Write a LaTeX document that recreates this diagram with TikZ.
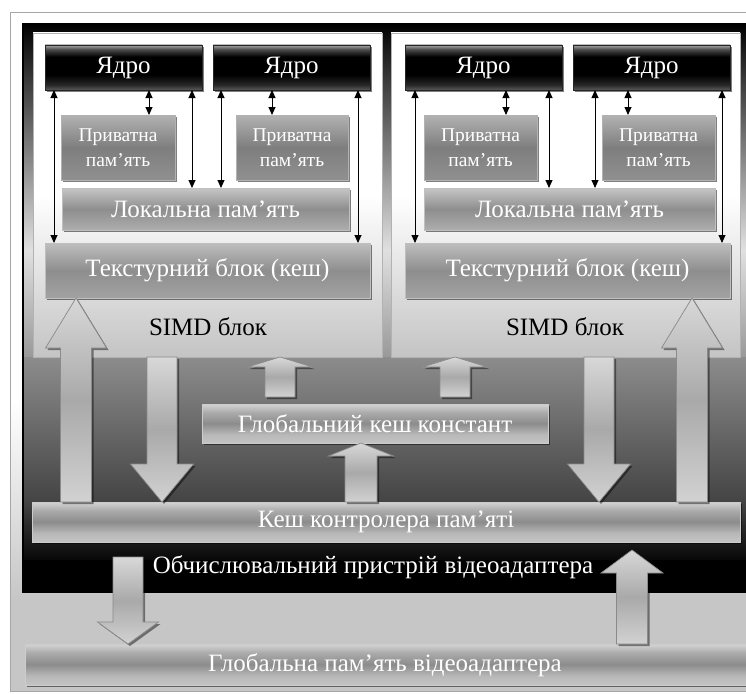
\documentclass[tikz,border=0pt]{standalone}
\usepackage{fontspec}
\setmainfont{Liberation Serif}
\usetikzlibrary{arrows.meta,calc}
\definecolor{outerB}{HTML}{C6C6C6}
\definecolor{coreA}{HTML}{5A5A5A}
\definecolor{coreB}{HTML}{262626}
\definecolor{coreC}{HTML}{4A4A4A}
\definecolor{coreD}{HTML}{A8A8A8}
\definecolor{barA}{HTML}{C4C4C4}
\definecolor{barB}{HTML}{B8B8B8}
\definecolor{barC}{HTML}{8C8C8C}
\definecolor{barD}{HTML}{AAAAAA}
\definecolor{barE}{HTML}{D4D4D4}
\definecolor{privT}{HTML}{B2B2B2}
\definecolor{privM}{HTML}{7E7E7E}
\definecolor{privB}{HTML}{909090}
\definecolor{locT}{HTML}{C6C6C6}
\definecolor{locM}{HTML}{8E8E8E}
\definecolor{locB}{HTML}{ADADAD}
\definecolor{texT}{HTML}{BEBEBE}
\definecolor{texM}{HTML}{8E8E8E}
\definecolor{texB}{HTML}{A2A2A2}
\definecolor{fatT}{HTML}{D8D8D8}
\definecolor{fatM}{HTML}{A9A9A9}
\definecolor{fatB}{HTML}{D2D2D2}
\definecolor{fatD}{HTML}{8A8A8A}
\definecolor{simdB}{HTML}{C4C4C4}
\pgfdeclareverticalshading{coreshade}{100bp}{color(0bp)=(coreA); color(25bp)=(coreA); color(31bp)=(coreB); color(42bp)=(black); color(62bp)=(black); color(70bp)=(coreC); color(75bp)=(coreD); color(100bp)=(coreD)}
\pgfdeclareverticalshading{barshade}{100bp}{color(0bp)=(barA); color(25bp)=(barA); color(36bp)=(barB); color(50bp)=(barC); color(64bp)=(barD); color(75bp)=(barE); color(100bp)=(barE)}
\newcommand\fatarrow[5]{%
  \path[fat] let \p1=#1, \p2=#2, \n1={\y2-sign(\y2-\y1)*(#5)} in
    (\x1-#3pt,\y1) -- (\x1-#3pt,{\n1*1pt}) -- (\x1-#4pt,{\n1*1pt}) -- (\x1,\y2)
    -- (\x1+#4pt,{\n1*1pt}) -- (\x1+#3pt,{\n1*1pt}) -- (\x1+#3pt,\y1) -- cycle;}
\begin{document}
\begin{tikzpicture}[x=1pt,y=-1pt,
  shadowed/.style={preaction={fill=black,opacity=.5,transform canvas={xshift=2pt,yshift=-2pt}}},
  box/.style={anchor=north west,inner sep=0pt,outer sep=0pt,align=center,text=white,
    font=\fontsize{25}{28}\selectfont},
  core/.style={box,shading=coreshade,draw=black!85,line width=.8pt,shadowed},
  priv/.style={box,top color=privT,bottom color=privB,middle color=privM,draw=gray!60,
    line width=.6pt,shadowed,font=\fontsize{19.5}{25}\selectfont},
  loc/.style={box,top color=locT,bottom color=locB,middle color=locM,draw=gray!50,line width=.6pt,shadowed},
  tex/.style={box,top color=texT,bottom color=texB,middle color=texM,draw=gray!50,line width=.6pt,shadowed},
  bar/.style={box,shading=barshade,draw=gray!40,line width=.6pt,shadowed},
  simd/.style={box,top color=white,bottom color=simdB,middle color=white,draw=gray!60,line width=.6pt},
  thinarr/.style={{Triangle[width=7pt,length=8pt]}-{Triangle[width=7pt,length=8pt]},line width=.9pt,black},
  fat/.style={draw=fatD,line width=.7pt,top color=fatT,bottom color=fatB,middle color=fatM,
    preaction={fill=black,opacity=.45,transform canvas={xshift=2pt,yshift=-2pt}}},
  lbl/.style={inner sep=0pt,font=\fontsize{25}{28}\selectfont}]
\useasboundingbox (0,0) rectangle (746,693);
\clip (0,0) rectangle (746,693);
\fill[white] (0,0) rectangle (746,693);
% outer frame
\fill[white] (10,12) rectangle (760,400);
\shade[top color=white,bottom color=outerB] (10,400) rectangle (760,600);
\fill[outerB] (10,600) rectangle (760,692);
\draw[gray!70,line width=.8pt] (10,12) rectangle (760,691);
% device box background
\shade[top color=black,bottom color=black!85] (23,24) rectangle (760,60);
\shade[top color=black!85,bottom color=black!12] (23,60) rectangle (760,250);
\shade[top color=black!12,bottom color=black!40] (23,250) rectangle (760,357);
\shade[top color=black!45,bottom color=black!73] (23,357) rectangle (760,500);
\shade[top color=black!73,bottom color=black!97] (23,500) rectangle (760,560);
\fill[black] (23,560) rectangle (760,592);
\node[anchor=north west,inner sep=0pt,outer sep=0pt,draw=black,line width=1.5pt,
  minimum width=737,minimum height=568] (dev) at (23,24) {};
% SIMD blocks
\node[simd,minimum width=349,minimum height=324] (s1) at (33,33) {};
\node[simd,minimum width=349,minimum height=324] (s2) at (391,33) {};
\node[lbl,text=black] (s1l) at (208,327) {SIMD блок};
\node[lbl,text=black] (s2l) at (565,327) {SIMD блок};
% cores
\node[core,minimum width=157,minimum height=45] (c1) at (45,45) {Ядро};
\node[core,minimum width=157,minimum height=45] (c2) at (213,45) {Ядро};
\node[core,minimum width=157,minimum height=45] (c3) at (405,45) {Ядро};
\node[core,minimum width=157,minimum height=45] (c4) at (573,45) {Ядро};
% private memory
\node[priv,minimum width=114,minimum height=65] (p1) at (61,115) {Приватна\\пам’ять};
\node[priv,minimum width=112,minimum height=65] (p2) at (236,115) {Приватна\\пам’ять};
\node[priv,minimum width=113,minimum height=65] (p3) at (424,115) {Приватна\\пам’ять};
\node[priv,minimum width=113,minimum height=65] (p4) at (602,115) {Приватна\\пам’ять};
% local memory
\node[loc,minimum width=287,minimum height=42] (l1) at (62,188) {Локальна пам’ять};
\node[loc,minimum width=291,minimum height=42] (l2) at (424,188) {Локальна пам’ять};
% texture blocks
\node[tex,minimum width=325,minimum height=55] (t1) at (45,243) {Текстурний блок (кеш)};
\node[tex,minimum width=325,minimum height=55] (t2) at (405,243) {Текстурний блок (кеш)};
% thin arrows
\draw[thinarr] (c1.south -| 54,0) -- (t1.north -| 54,0);
\draw[thinarr] (c1.south -| 149,0) -- (p1.north -| 149,0);
\draw[thinarr] (c1.south -| 192,0) -- (l1.north -| 192,0);
\draw[thinarr] (c2.south -| 221,0) -- (l1.north -| 221,0);
\draw[thinarr] (c2.south -| 272,0) -- (p2.north -| 272,0);
\draw[thinarr] (c2.south -| 358,0) -- (t1.north -| 358,0);
\draw[thinarr] (c3.south -| 415,0) -- (t2.north -| 415,0);
\draw[thinarr] (c3.south -| 506,0) -- (p3.north -| 506,0);
\draw[thinarr] (c3.south -| 549,0) -- (l2.north -| 549,0);
\draw[thinarr] (c4.south -| 595,0) -- (l2.north -| 595,0);
\draw[thinarr] (c4.south -| 628,0) -- (p4.north -| 628,0);
\draw[thinarr] (c4.south -| 722,0) -- (t2.north -| 722,0);
% bars
\node[bar,minimum width=346,minimum height=39] (g) at (202,404) {Глобальний кеш констант};
\node[bar,minimum width=708,minimum height=40] (k) at (32,502) {Кеш контролера пам’яті};
\node[bar,minimum width=735,minimum height=41] (m) at (25,644) {};
\node[lbl,text=white] (ml) at (385,665) {Глобальна пам’ять відеоадаптера};
% fat arrows
\fatarrow{(k.north -| 76,0)}{(t1.south -| 76,0)}{15.5}{30.5}{50}
\fatarrow{(s1.south -| 162,0)}{(k.north -| 162,0)}{15}{31.5}{38}
\fatarrow{($(g.north -| 280,0)+(0,-7)$)}{(s1.south -| 280,0)}{15}{32.5}{10}
\fatarrow{($(g.north -| 455,0)+(0,-7)$)}{(s2.south -| 455,0)}{15}{32.5}{10}
\fatarrow{(k.north -| 361,0)}{(g.south -| 361,0)}{16}{32.5}{13}
\fatarrow{(s2.south -| 599,0)}{(k.north -| 599,0)}{15}{31.5}{38}
\fatarrow{(k.north -| 692,0)}{(t2.south -| 692,0)}{15.5}{30.5}{50}
\fatarrow{($(k.south -| 128,0)+(0,15)$)}{(m.north -| 128,0)}{15}{30.5}{22}
\fatarrow{(m.north -| 632,0)}{($(k.south -| 632,0)+(0,8)$)}{15.5}{31}{23}
% device label
\node[lbl,text=white] (devl) at (373,567) {Обчислювальний пристрій відеоадаптера};
\end{tikzpicture}
\end{document}
